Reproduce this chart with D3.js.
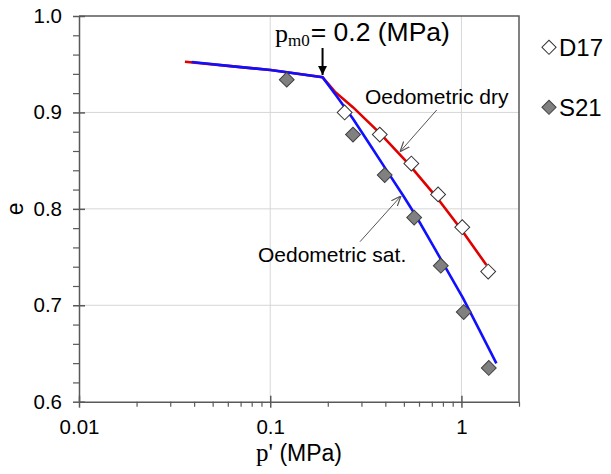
<!DOCTYPE html>
<html>
<head>
<meta charset="utf-8">
<script src="https://cdn.jsdelivr.net/npm/d3@7"></script>
<style>
  body { margin: 0; background: #fff; }
  text { font-family: "Liberation Sans", Arial, sans-serif; fill: #000; }
  .serif { font-family: "Liberation Serif", "Times New Roman", serif; }
</style>
</head>
<body>
<svg id="chart" width="611" height="474"></svg>
<script>
// measured points (p' in MPa, void ratio e)
var d17P = [0.245, 0.374, 0.547, 0.755, 1.01, 1.38];
var d17E = [0.900, 0.877, 0.847, 0.815, 0.781, 0.735];
var s21P = [0.122, 0.271, 0.397, 0.566, 0.780, 1.028, 1.39];
var s21E = [0.934, 0.877, 0.835, 0.791, 0.741, 0.693, 0.635];

// model curves
var dryP = [0.0358, 0.064, 0.1004, 0.1878, 0.2177, 0.2714, 0.3743, 0.5258, 0.7406, 1.0, 1.351];
var dryE = [0.9526, 0.9478, 0.944, 0.9364, 0.9215, 0.9052, 0.8786, 0.8472, 0.8122, 0.7783, 0.7417];
var satP = [0.0388, 0.064, 0.1004, 0.1878, 0.2222, 0.2714, 0.3318, 0.4055, 0.4953, 0.5818, 0.7105, 0.8349, 1.0195, 1.246, 1.523];
var satE = [0.9523, 0.9478, 0.944, 0.9364, 0.917, 0.8932, 0.8667, 0.8402, 0.8138, 0.7918, 0.7619, 0.7375, 0.7075, 0.6738, 0.6397];

var xMajor = [0.01, 0.1, 1];
var xMinor = [0.02,0.03,0.04,0.05,0.06,0.07,0.08,0.09,0.2,0.3,0.4,0.5,0.6,0.7,0.8,0.9,2];
var yMajor = [0.6, 0.7, 0.8, 0.9, 1.0];
var yMinor = [0.62,0.64,0.66,0.68,0.72,0.74,0.76,0.78,0.82,0.84,0.86,0.88,0.92,0.94,0.96,0.98];

var svg = d3.select("#chart");
var L = 79, R = 519, T = 16, B = 401.7;
var axisCol = "#595959";

var x = d3.scaleLog().domain([0.01, 2]).range([L, R]);
var y = d3.scaleLinear().domain([0.6, 1.0]).range([B, T]);

function zip(a, b){ return a.map(function(v, i){ return [v, b[i]]; }); }

var defs = svg.append("defs");
defs.append("marker").attr("id","blackhead")
    .attr("viewBox","0 0 10 10").attr("refX",10).attr("refY",5)
    .attr("markerWidth",10).attr("markerHeight",9).attr("markerUnits","userSpaceOnUse")
    .attr("orient","auto")
  .append("path").attr("d","M0,0 L10,5 L0,10 z").attr("fill","#000");
defs.append("marker").attr("id","grayhead")
    .attr("viewBox","0 0 10 10").attr("refX",10).attr("refY",5)
    .attr("markerWidth",10).attr("markerHeight",10).attr("markerUnits","userSpaceOnUse")
    .attr("orient","auto")
  .append("path").attr("d","M0,1 L10,5 L0,9").attr("fill","none").attr("stroke","#555").attr("stroke-width",1.2);

// grid
svg.append("g").selectAll("line").data([0.1, 1]).join("line")
    .attr("x1", d => x(d)).attr("x2", d => x(d)).attr("y1", T).attr("y2", B)
    .attr("stroke", "#d6d6d6").attr("stroke-width", 1);
svg.append("g").selectAll("line").data([0.7, 0.8, 0.9]).join("line")
    .attr("x1", L).attr("x2", R).attr("y1", d => y(d)).attr("y2", d => y(d))
    .attr("stroke", "#d6d6d6").attr("stroke-width", 1);

// frame top / right
svg.append("path").attr("d", "M" + L + "," + T + "H" + R + "V" + B)
    .attr("fill", "none").attr("stroke", axisCol).attr("stroke-width", 1.5);

// x axis
var gx = svg.append("g").attr("transform", "translate(0," + B + ")")
    .call(d3.axisBottom(x).tickValues(xMajor).tickSizeInner(6).tickSizeOuter(0).tickPadding(12)
        .tickFormat(d3.format("")));
gx.select(".domain").attr("stroke", axisCol).attr("stroke-width", 1.5);
gx.selectAll(".tick line").attr("y1", -6).attr("stroke", axisCol).attr("stroke-width", 1.5);
gx.selectAll(".tick text").attr("font-size", 20.5).attr("font-family", null);
var gxm = svg.append("g").attr("transform", "translate(0," + B + ")")
    .call(d3.axisBottom(x).tickValues(xMinor).tickSize(5).tickFormat(""));
gxm.select(".domain").remove();
gxm.selectAll(".tick line").attr("stroke", axisCol).attr("stroke-width", 1.2);

// y axis
var gy = svg.append("g").attr("transform", "translate(" + L + ",0)")
    .call(d3.axisLeft(y).tickValues(yMajor).tickSizeInner(6).tickSizeOuter(0).tickPadding(11)
        .tickFormat(d3.format(".1f")));
gy.select(".domain").attr("stroke", axisCol).attr("stroke-width", 1.5);
gy.selectAll(".tick line").attr("x1", 6).attr("stroke", axisCol).attr("stroke-width", 1.5);
gy.selectAll(".tick text").attr("font-size", 20.5).attr("font-family", null);
var gym = svg.append("g").attr("transform", "translate(" + L + ",0)")
    .call(d3.axisLeft(y).tickValues(yMinor).tickSize(6).tickFormat(""));
gym.select(".domain").remove();
gym.selectAll(".tick line").attr("stroke", axisCol).attr("stroke-width", 1.2);

// axis titles
var xt = svg.append("text").attr("x", (L + R) / 2).attr("y", 461).attr("text-anchor", "middle").attr("font-size", 23);
xt.append("tspan").attr("class", "serif").attr("font-size", 25).text("p'");
xt.append("tspan").text(" (MPa)");
svg.append("text").attr("transform", "translate(23," + ((T + B) / 2) + ") rotate(-90)")
    .attr("text-anchor", "middle").attr("font-size", 23).text("e");

// curves
var line = d3.line().x(d => x(d[0])).y(d => y(d[1]));
svg.append("path").datum(zip(dryP, dryE)).attr("d", line)
    .attr("fill", "none").attr("stroke", "#e00000").attr("stroke-width", 2.6);
svg.append("path").datum(zip(satP, satE)).attr("d", line)
    .attr("fill", "none").attr("stroke", "#1010ff").attr("stroke-width", 2.6);

// markers (square turned 45deg)
var diamond = d3.symbol().type(d3.symbolSquare).size(110);
svg.append("g").selectAll("path").data(zip(s21P, s21E)).join("path")
    .attr("d", diamond)
    .attr("transform", d => "translate(" + x(d[0]) + "," + y(d[1]) + ") rotate(45)")
    .attr("fill", "#808080").attr("stroke", "#404040").attr("stroke-width", 1);
svg.append("g").selectAll("path").data(zip(d17P, d17E)).join("path")
    .attr("d", diamond)
    .attr("transform", d => "translate(" + x(d[0]) + "," + y(d[1]) + ") rotate(45)")
    .attr("fill", "#fff").attr("stroke", "#333").attr("stroke-width", 1);

// p_m0 annotation
var pm = svg.append("text").attr("x", 275).attr("y", 41.5);
pm.append("tspan").attr("class", "serif").attr("font-size", 26).text("p");
pm.append("tspan").attr("class", "serif").attr("font-size", 17).attr("dy", 4).text("m0");
pm.append("tspan").attr("font-size", 26.5).attr("dy", -5).attr("dx", 1).text("= 0.2 (MPa)");
svg.append("line").attr("x1", x(0.1878)).attr("x2", x(0.1878)).attr("y1", 48).attr("y2", 75)
    .attr("stroke", "#000").attr("stroke-width", 2).attr("marker-end", "url(#blackhead)");

// curve labels with leaders
svg.append("text").attr("x", 365).attr("y", 104).attr("font-size", 21).text("Oedometric dry");
svg.append("line").attr("x1", 436.7).attr("y1", 110).attr("x2", 400).attr("y2", 151.7)
    .attr("stroke", "#555").attr("stroke-width", 1).attr("marker-end", "url(#grayhead)");
svg.append("text").attr("x", 258).attr("y", 262).attr("font-size", 21).text("Oedometric sat.");
svg.append("line").attr("x1", 360).attr("y1", 241.7).attr("x2", 401).attr("y2", 196)
    .attr("stroke", "#555").attr("stroke-width", 1).attr("marker-end", "url(#grayhead)");

// legend
var legend = [{name: "D17", fill: "#fff", stroke: "#333", cy: 47.3},
              {name: "S21", fill: "#808080", stroke: "#404040", cy: 107.3}];
var lg = svg.append("g").selectAll("g").data(legend).join("g");
lg.append("path").attr("d", d3.symbol().type(d3.symbolSquare).size(100))
    .attr("transform", d => "translate(549," + d.cy + ") rotate(45)")
    .attr("fill", d => d.fill).attr("stroke", d => d.stroke).attr("stroke-width", 1);
lg.append("text").attr("x", 559).attr("y", d => d.cy + 8.6).attr("font-size", 24).text(d => d.name);
</script>
</body>
</html>
